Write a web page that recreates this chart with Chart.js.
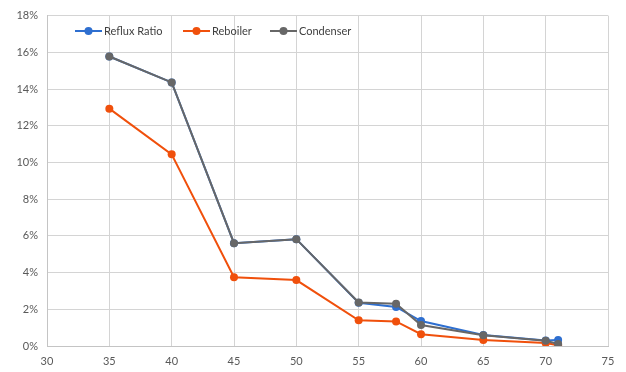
<!DOCTYPE html>
<html>
<head>
<meta charset="utf-8">
<script src="https://cdn.jsdelivr.net/npm/chart.js@4.4.0/dist/chart.umd.min.js"></script>
<style>
  html, body { margin: 0; padding: 0; background: #fff; }
  #wrap { width: 626px; height: 372px; position: relative; }
  #legend { position: absolute; left: 75px; top: 24px; height: 14px; font: 11px Lato, sans-serif; color: #404040; }
  .item { position: absolute; top: 0; height: 14px; line-height: 14px; white-space: nowrap; background: rgba(255,255,255,0.0); }
  .item canvas { vertical-align: middle; margin-right: 2px; position: relative; top: -1px; }
</style>
</head>
<body>
<div id="wrap"><canvas id="chart"></canvas><div id="legend"></div></div>
<script>
// 横轴取值
const xValues = [35, 40, 45, 50, 55, 58, 60, 65, 70, 71];

// 各序列数值（%）
const refluxRatio = [15.77, 14.36, 5.6, 5.82, 2.36, 2.13, 1.36, 0.6, 0.3, 0.33];
const reboiler = [12.93, 10.44, 3.75, 3.59, 1.4, 1.34, 0.64, 0.33, 0.16, 0.04];
const condenser = [15.77, 14.36, 5.6, 5.82, 2.37, 2.3, 1.14, 0.58, 0.29, 0.11];

const seriesNames = ['Reflux Ratio', 'Reboiler', 'Condenser'];
const seriesColors = ['#2e6fd0', '#f0500c', '#676767'];

// 刻度
const xTicks = [30, 35, 40, 45, 50, 55, 60, 65, 70, 75];
const yTicks = [0, 2, 4, 6, 8, 10, 12, 14, 16, 18];

function toPoints(values) {
    return values.map((v, i) => ({ x: xValues[i], y: v }));
}

// 图例小图标：线 + 圆点
function legendIcon(color) {
    const c = document.createElement('canvas');
    c.width = 27;
    c.height = 10;
    const ctx = c.getContext('2d');
    ctx.strokeStyle = color;
    ctx.lineWidth = 2;
    ctx.beginPath();
    ctx.moveTo(0, 5);
    ctx.lineTo(27, 5);
    ctx.stroke();
    ctx.fillStyle = color;
    ctx.beginPath();
    ctx.arc(13.5, 5, 4, 0, Math.PI * 2);
    ctx.fill();
    return c;
}

// 手动图例（放在绘图区内部顶部）
function buildLegend() {
    const box = document.getElementById('legend');
    const offsets = [0, 108, 195];
    seriesNames.forEach((name, i) => {
        const item = document.createElement('span');
        item.className = 'item';
        item.style.left = offsets[i] + 'px';
        item.appendChild(legendIcon(seriesColors[i]));
        item.appendChild(document.createTextNode(name));
        box.appendChild(item);
    });
}

const allSeries = [refluxRatio, reboiler, condenser];
const drawOrder = [2, 1, 0];

new Chart(document.getElementById('chart'), {
    type: 'line',
    data: {
        datasets: allSeries.map((vals, i) => ({
            label: seriesNames[i],
            data: toPoints(vals),
            borderColor: seriesColors[i],
            backgroundColor: seriesColors[i],
            borderWidth: 2,
            pointRadius: 4,
            pointHoverRadius: 4,
            pointBorderWidth: 0,
            tension: 0,
            order: drawOrder[i]
        }))
    },
    options: {
        responsive: true,
        maintainAspectRatio: false,
        animation: false,
        layout: {
            padding: { left: 0, top: 15, right: 18, bottom: 0 }
        },
        scales: {
            x: {
                type: 'linear',
                min: 30,
                max: 75,
                afterBuildTicks: scale => { scale.ticks = xTicks.map(v => ({ value: v })); },
                afterFit: scale => { scale.height = 26; },
                ticks: {
                    color: '#595959',
                    font: { family: 'Lato', size: 11 },
                    padding: 9,
                    maxRotation: 0
                },
                grid: { color: '#d4d4d4', lineWidth: 1, drawTicks: false },
                border: { color: '#c4c4c4', width: 1 }
            },
            y: {
                min: 0,
                max: 18,
                afterBuildTicks: scale => { scale.ticks = yTicks.map(v => ({ value: v })); },
                afterFit: scale => { scale.width = 47; },
                ticks: {
                    color: '#595959',
                    font: { family: 'Lato', size: 11 },
                    padding: 9,
                    callback: v => v + '%'
                },
                grid: { color: '#d4d4d4', lineWidth: 1, drawTicks: false },
                border: { color: '#c4c4c4', width: 1 }
            }
        },
        plugins: {
            legend: { display: false },
            tooltip: { enabled: false }
        }
    }
});

buildLegend();
</script>
</body>
</html>
